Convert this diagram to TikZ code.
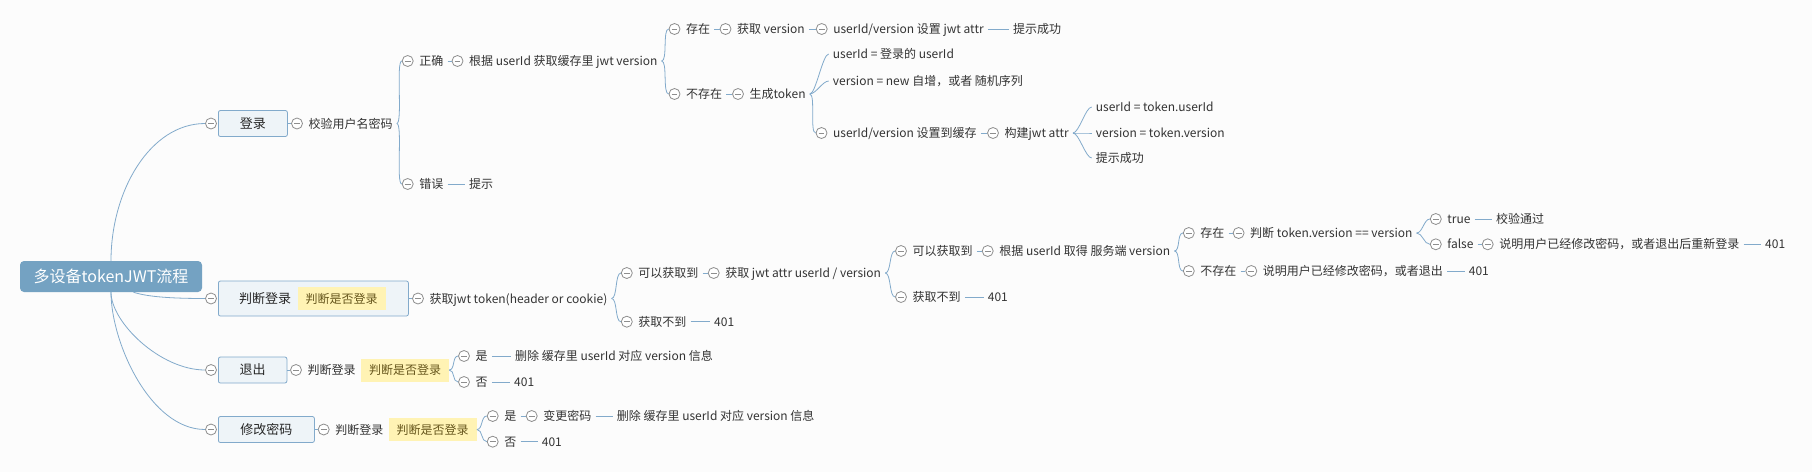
\documentclass[tikz,border=0pt]{standalone}
\usepackage{fontspec}
\setmainfont{Noto Sans CJK SC}
\usetikzlibrary{positioning}
\definecolor{rootblue}{HTML}{74A2C2}
\definecolor{linkblue}{HTML}{82AACB}
\definecolor{topicfill}{HTML}{EEF4F8}
\definecolor{tagfill}{HTML}{FFF3B4}
\definecolor{tagtext}{HTML}{66561C}
\definecolor{foldgray}{HTML}{8E8E8E}
\definecolor{textgray}{HTML}{333333}
\definecolor{bgcol}{HTML}{FCFCFC}

\begin{document}
\begin{tikzpicture}[x=1pt, y=-1pt,
	root/.style={rectangle, fill=rootblue, rounded corners=4pt, text=white, font=\fontsize{16}{19}\selectfont, minimum width=182pt, minimum height=31pt, text height=14pt, text depth=2pt},
	toptext/.style={font=\fontsize{13}{16}\selectfont, text=black!85, inner xsep=4pt, inner ysep=0pt, text height=11.5pt, text depth=1.6pt},
	topic/.style={toptext, rectangle, draw=linkblue, fill=topicfill, rounded corners=2pt, line width=0.8pt, minimum height=26pt, anchor=west},
	sub/.style={font=\fontsize{12}{14}\selectfont, text=textgray, inner xsep=4pt, inner ysep=0pt, text height=10.5pt, text depth=1.5pt},
	leaf/.style={sub, anchor=west},
	tag/.style={fill=tagfill, text=tagtext, font=\fontsize{12}{14}\selectfont, minimum width=88pt, minimum height=23pt, inner sep=0pt, text height=10.5pt, text depth=1.5pt},
	fold/.style={circle, draw=foldgray, fill=white, line width=0.8pt, minimum size=11pt, inner sep=0pt,
		path picture={\draw[foldgray, line width=0.8pt] ([xshift=2.6pt]path picture bounding box.west) -- ([xshift=-2.6pt]path picture bounding box.east);}},
	link/.style={draw=linkblue, line width=0.8pt},
	bracelink/.style={to path={.. controls +(6,0) and +(-6,0) .. (\tikztotarget) \tikztonodes}}
]
\useasboundingbox (0,0) rectangle (1812,472);
\fill[bgcol] (0,0) rectangle (1812,472);

% Central topic
\node[root] (root) at (111,276.5) {多设备tokenJWT流程};

% Main topics
\node[topic, minimum width=69pt] (L) at (218,123.5) {登录};
\node[topic, minimum width=190pt, minimum height=35pt] (J) at (218,298.5) {};
\node[toptext, anchor=west] (Jt) at ([xshift=17pt]J.west) {判断登录};
\node[tag, right=2pt of Jt] (Jtag) {判断是否登录};
\node[topic, minimum width=68.5pt] (Q) at (218,370) {退出};
\node[topic, minimum width=96pt] (P) at (218,429.5) {修改密码};
\node[fold] (FL) at (211,123.5) {};
\node[fold] (FJ) at (211,298.5) {};
\node[fold] (FQ) at (211,370) {};
\node[fold] (FP) at (211,429.5) {};

\draw[link] (root.north) .. controls +(0,-70) and +(-55,0) .. (FL.west);
\draw[link] (root.-35) .. controls +(15,5) and +(-30,0) .. (FJ.west);
\draw[link] (root.south) .. controls +(0,30) and +(-45,0) .. (FQ.west);
\draw[link] (root.south) .. controls +(0,50) and +(-55,0) .. (FP.west);

% Login branch
\node[fold] (FL1) at (297,123.5) {};
\node[sub, right=1.5pt of FL1] (L1) {校验用户名密码};
\draw[link] (L) -- (FL1);

\node[fold] (FL11) at (407.7,61) {};
\node[sub, right=1.5pt of FL11] (L11) {正确};
\node[fold] (FL12) at (407.7,184) {};
\node[sub, right=1.5pt of FL12] (L12) {错误};
\draw[link] (L1.east) to[bracelink] (FL11.west);
\draw[link] (L1.east) to[bracelink] (FL12.west);

\node[fold] (FL111) at (457.5,61) {};
\node[sub, right=1.5pt of FL111] (L111) {根据 userId 获取缓存里 jwt version};
\draw[link] (L11) -- (FL111);
\node[leaf] (L121) at (465,184) {提示};
\draw[link] (L12) -- (L121);

\node[fold] (FLa) at (674.5,29) {};
\node[sub, right=1.5pt of FLa] (La) {存在};
\node[fold] (FLb) at (674.5,94) {};
\node[sub, right=1.5pt of FLb] (Lb) {不存在};
\draw[link] (L111.east) to[bracelink] (FLa.west);
\draw[link] (L111.east) to[bracelink] (FLb.west);

% key found in cache
\node[fold] (FLa1) at (725.5,29) {};
\node[sub, right=1.5pt of FLa1] (La1) {获取 version};
\node[fold] (FLa2) at (821.7,29) {};
\node[sub, right=1.5pt of FLa2] (La2) {userId/version 设置 jwt attr};
\node[leaf] (La3) at (1009,29) {提示成功};
\draw[link] (La) -- (FLa1);
\draw[link] (La1) -- (FLa2);
\draw[link] (La2) -- (La3);

% key not found in cache
\node[fold] (FLb1) at (738,94) {};
\node[sub, right=1.5pt of FLb1] (Lb1) {生成token};
\draw[link] (Lb) -- (FLb1);
\node[leaf] (Lb2) at (828.7,54) {userId = 登录的 userId};
\node[leaf] (Lb3) at (828.7,81) {version = new 自增，或者 随机序列};
\node[fold] (FLb4) at (821.5,133) {};
\node[sub, right=1.5pt of FLb4] (Lb4) {userId/version 设置到缓存};
\draw[link] (Lb1.east) to[bracelink] (Lb2.west);
\draw[link] (Lb1.east) to[bracelink] (Lb3.west);
\draw[link] (Lb1.east) to[bracelink] (FLb4.west);

\node[fold] (FLb5) at (993,133) {};
\node[sub, right=1.5pt of FLb5] (Lb5) {构建jwt attr};
\draw[link] (Lb4) -- (FLb5);
\node[leaf] (Lb6) at (1091.7,107) {userId = token.userId};
\node[leaf] (Lb7) at (1091.7,133) {version = token.version};
\node[leaf] (Lb8) at (1091.7,158) {提示成功};
\draw[link] (Lb5.east) to[bracelink] (Lb6.west);
\draw[link] (Lb5.east) to[bracelink] (Lb7.west);
\draw[link] (Lb5.east) to[bracelink] (Lb8.west);

% Check-login branch
\node[fold] (FJ1) at (418,298.5) {};
\node[sub, right=1.5pt of FJ1] (J1) {获取jwt token(header or cookie)};
\draw[link] (J) -- (FJ1);

\node[fold] (FJa) at (626.8,273) {};
\node[sub, right=1.5pt of FJa] (Ja) {可以获取到};
\node[fold] (FJb) at (626.8,321.7) {};
\node[sub, right=1.5pt of FJb] (Jb) {获取不到};
\draw[link] (J1.east) to[bracelink] (FJa.west);
\draw[link] (J1.east) to[bracelink] (FJb.west);

\node[fold] (FJa1) at (713.7,273) {};
\node[sub, right=1.5pt of FJa1] (Ja1) {获取 jwt attr userId / version};
\draw[link] (Ja) -- (FJa1);
\node[leaf] (Jb1) at (710,321.7) {401};
\draw[link] (Jb) -- (Jb1);

\node[fold] (FJc) at (901,251) {};
\node[sub, right=1.5pt of FJc] (Jc) {可以获取到};
\node[fold] (FJd) at (901,297) {};
\node[sub, right=1.5pt of FJd] (Jd) {获取不到};
\draw[link] (Ja1.east) to[bracelink] (FJc.west);
\draw[link] (Ja1.east) to[bracelink] (FJd.west);

\node[fold] (FJc1) at (987.7,251) {};
\node[sub, right=1.5pt of FJc1] (Jc1) {根据 userId 取得 服务端 version};
\draw[link] (Jc) -- (FJc1);
\node[leaf] (Jd1) at (983.7,297) {401};
\draw[link] (Jd) -- (Jd1);

\node[fold] (FJe) at (1188.8,233) {};
\node[sub, right=1.5pt of FJe] (Je) {存在};
\node[fold] (FJf) at (1188.8,271) {};
\node[sub, right=1.5pt of FJf] (Jf) {不存在};
\draw[link] (Jc1.east) to[bracelink] (FJe.west);
\draw[link] (Jc1.east) to[bracelink] (FJf.west);

% version on server
\node[fold] (FJe1) at (1238.6,233) {};
\node[sub, right=1.5pt of FJe1] (Je1) {判断 token.version == version};
\draw[link] (Je) -- (FJe1);
\node[fold] (FJg) at (1435.8,219) {};
\node[sub, right=1.5pt of FJg] (Jg) {true};
\node[fold] (FJh) at (1435.8,244.3) {};
\node[sub, right=1.5pt of FJh] (Jh) {false};
\draw[link] (Je1.east) to[bracelink] (FJg.west);
\draw[link] (Je1.east) to[bracelink] (FJh.west);
\node[leaf] (Jg1) at (1492,219) {校验通过};
\draw[link] (Jg) -- (Jg1);
\node[fold] (FJh1) at (1487.7,244.3) {};
\node[sub, right=1.5pt of FJh1] (Jh1) {说明用户已经修改密码，或者退出后重新登录};
\draw[link] (Jh) -- (FJh1);
\node[leaf] (Jh2) at (1761,244.3) {401};
\draw[link] (Jh1) -- (Jh2);

% no version on server
\node[fold] (FJf1) at (1251.3,271) {};
\node[sub, right=1.5pt of FJf1] (Jf1) {说明用户已经修改密码，或者退出};
\draw[link] (Jf) -- (FJf1);
\node[leaf] (Jf2) at (1464.7,271) {401};
\draw[link] (Jf1) -- (Jf2);

% Logout branch
\node[fold] (FQ1) at (296,370) {};
\node[sub, right=1.5pt of FQ1] (Q1) {判断登录};
\node[tag, right=1pt of Q1] (Q1tag) {判断是否登录};
\draw[link] (Q) -- (FQ1);
\node[fold] (FQa) at (464,356) {};
\node[sub, right=1.5pt of FQa] (Qa) {是};
\node[fold] (FQb) at (464,382) {};
\node[sub, right=1.5pt of FQb] (Qb) {否};
\draw[link] (Q1tag.east) to[bracelink] (FQa.west);
\draw[link] (Q1tag.east) to[bracelink] (FQb.west);
\node[leaf] (Qa1) at (511,356) {删除 缓存里 userId 对应 version 信息};
\node[leaf] (Qb1) at (510,382) {401};
\draw[link] (Qa) -- (Qa1);
\draw[link] (Qb) -- (Qb1);

% Change-password branch
\node[fold] (FP1) at (323.7,429.5) {};
\node[sub, right=1.5pt of FP1] (P1) {判断登录};
\node[tag, right=1pt of P1] (P1tag) {判断是否登录};
\draw[link] (P) -- (FP1);
\node[fold] (FPa) at (492.7,416) {};
\node[sub, right=1.5pt of FPa] (Pa) {是};
\node[fold] (FPb) at (492.7,441.7) {};
\node[sub, right=1.5pt of FPb] (Pb) {否};
\draw[link] (P1tag.east) to[bracelink] (FPa.west);
\draw[link] (P1tag.east) to[bracelink] (FPb.west);
\node[fold] (FPa1) at (531.7,416) {};
\node[sub, right=1.5pt of FPa1] (Pa1) {变更密码};
\draw[link] (Pa) -- (FPa1);
\node[leaf] (Pa2) at (612.7,416) {删除 缓存里 userId 对应 version 信息};
\draw[link] (Pa1) -- (Pa2);
\node[leaf] (Pb1) at (537.7,441.7) {401};
\draw[link] (Pb) -- (Pb1);
\end{tikzpicture}
\end{document}
